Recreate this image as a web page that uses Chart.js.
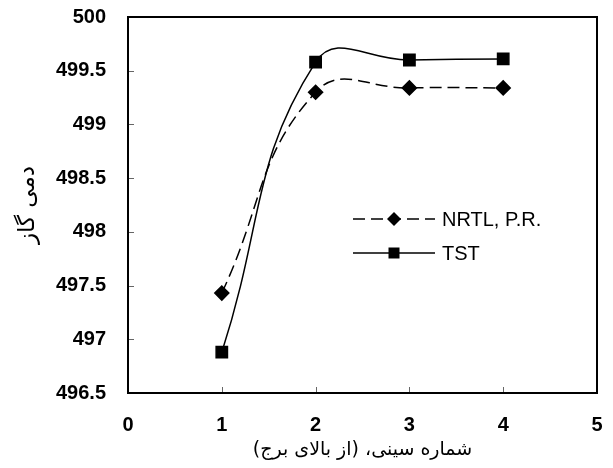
<!DOCTYPE html>
<html>
<head>
<meta charset="utf-8">
<script src="https://cdn.jsdelivr.net/npm/chart.js@4/dist/chart.umd.min.js"></script>
<style>
  html, body { margin: 0; padding: 0; background: #fff; }
  #wrap { width: 613px; height: 468px; }
</style>
</head>
<body>
<div id="wrap"><canvas id="chart"></canvas></div>
<script>
// data
var trayNumbers = [1, 2, 3, 4];
var nrtlValues = [497.43, 499.30, 499.34, 499.34];
var tstValues = [496.88, 499.58, 499.60, 499.61];
var seriesNames = ['NRTL, P.R.', 'TST'];
var xTitle = 'شماره سینی، (از بالای برج)';
var yTitle = 'دمی گاز';

var toPoints = function (ys) {
    return trayNumbers.map(function (x, i) { return { x: x, y: ys[i] }; });
};

var tickFont = { family: 'Liberation Sans, Arial, sans-serif', size: 20, weight: 'bold' };

// box around plot + inner tick marks
var frame = {
    id: 'frame',
    afterDraw: function (chart) {
        var ctx = chart.ctx, a = chart.chartArea;
        var xs = chart.scales.x, ys = chart.scales.y;
        ctx.save();
        ctx.strokeStyle = '#666';
        ctx.lineWidth = 1;
        ys.ticks.forEach(function (t) {
            var py = Math.round(ys.getPixelForValue(t.value)) + 0.5;
            ctx.beginPath(); ctx.moveTo(a.left, py); ctx.lineTo(a.left + 6, py); ctx.stroke();
        });
        xs.ticks.forEach(function (t) {
            var px = Math.round(xs.getPixelForValue(t.value)) + 0.5;
            ctx.beginPath(); ctx.moveTo(px, a.bottom); ctx.lineTo(px, a.bottom - 6); ctx.stroke();
        });
        ctx.strokeStyle = '#000';
        ctx.lineWidth = 2;
        ctx.strokeRect(a.left, a.top, a.right - a.left, a.bottom - a.top);
        ctx.restore();
    }
};

// legend drawn inside the plot like the original
var innerLegend = {
    id: 'innerLegend',
    afterDraw: function (chart) {
        var ctx = chart.ctx, a = chart.chartArea;
        var x0 = a.left + 225, x1 = a.left + 307, xm = (x0 + x1) / 2;
        var rows = [a.top + 202, a.top + 236];
        ctx.save();
        ctx.fillStyle = '#000';
        ctx.strokeStyle = '#000';
        ctx.lineWidth = 1.5;
        ctx.font = '20px Liberation Sans, Arial, sans-serif';
        ctx.textBaseline = 'middle';
        rows.forEach(function (y, i) {
            var ds = chart.data.datasets[i];
            ctx.setLineDash(ds.borderDash || []);
            ctx.beginPath(); ctx.moveTo(x0, y); ctx.lineTo(x1, y); ctx.stroke();
            ctx.setLineDash([]);
            ctx.beginPath();
            if (ds.pointStyle === 'rectRot') {
                ctx.moveTo(xm, y - 7); ctx.lineTo(xm + 7, y); ctx.lineTo(xm, y + 7); ctx.lineTo(xm - 7, y);
                ctx.closePath();
            } else {
                ctx.rect(xm - 5.5, y - 5.5, 11, 11);
            }
            ctx.fill();
            ctx.fillText(ds.label, x1 + 7, y + 1);
        });
        ctx.restore();
    }
};

new Chart(document.getElementById('chart'), {
    type: 'line',
    data: {
        datasets: [{
            label: seriesNames[0],
            data: toPoints(nrtlValues),
            borderColor: '#000',
            backgroundColor: '#000',
            borderWidth: 1.5,
            borderDash: [12, 6],
            pointStyle: 'rectRot',
            pointRadius: 7,
            pointHoverRadius: 7,
            tension: 0.45
        }, {
            label: seriesNames[1],
            data: toPoints(tstValues),
            borderColor: '#000',
            backgroundColor: '#000',
            borderWidth: 1.5,
            pointStyle: 'rect',
            pointRadius: 8,
            pointHoverRadius: 8,
            tension: 0.45
        }]
    },
    options: {
        responsive: true,
        maintainAspectRatio: false,
        animation: false,
        layout: { padding: { top: 17, right: 16, left: 0, bottom: 0 } },
        plugins: { legend: { display: false }, tooltip: { enabled: false } },
        scales: {
            x: {
                type: 'linear',
                min: 0, max: 5,
                ticks: { stepSize: 1, color: '#000', font: tickFont, padding: 12, maxRotation: 0 },
                grid: { display: false },
                border: { display: false },
                title: {
                    display: true, text: xTitle, color: '#000',
                    font: { family: 'DejaVu Sans, sans-serif', size: 19 },
                    padding: { top: 0, bottom: 7 }
                },
                afterFit: function (s) { s.height = 75; s.paddingLeft = 0; s.paddingRight = 0; }
            },
            y: {
                min: 496.5, max: 500,
                ticks: {
                    stepSize: 0.5, color: '#000', font: tickFont, padding: 14,
                    callback: function (v) { return String(+v.toFixed(1)); }
                },
                grid: { display: false },
                border: { display: false },
                title: {
                    display: true, text: yTitle, color: '#000',
                    font: { family: 'DejaVu Sans, sans-serif', size: 23 },
                    padding: { top: 14, bottom: 0 }
                },
                afterFit: function (s) { s.width = 128; s.paddingTop = 0; s.paddingBottom = 0; }
            }
        }
    },
    plugins: [frame, innerLegend]
});
</script>
</body>
</html>
